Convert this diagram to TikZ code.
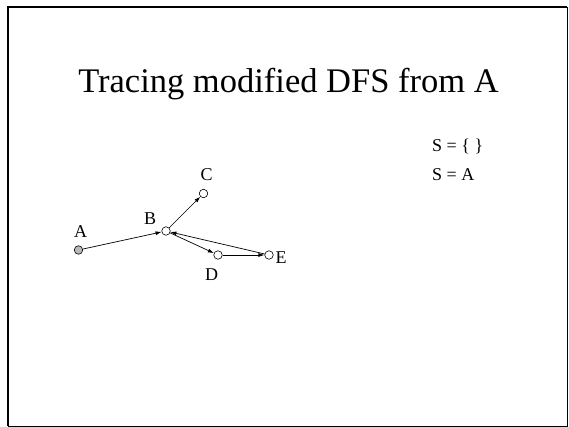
\documentclass[tikz,border=0pt]{standalone}
\usepackage{fontspec}
\setmainfont{Liberation Serif}
\usetikzlibrary{arrows.meta}
\begin{document}
\begin{tikzpicture}[x=1pt,y=-1pt,
  vert/.style={circle,draw,fill=white,inner sep=0pt,minimum size=8.5pt,line width=0.6pt},
  lbl/.style={font=\fontsize{18}{20}\selectfont,inner sep=0pt},
  edge/.style={-{Latex[length=6pt,width=4pt]},line width=0.7pt}]
\useasboundingbox (0,0) rectangle (569,427);
\draw[line width=1pt] (8.5,7.5) rectangle (567,426);
\draw[line width=1.5pt] (8,426) -- (8,7) -- (567,7);
\node[font=\fontsize{34.5}{38}\selectfont,inner sep=0pt,anchor=base] (title) at (288.5,93) {Tracing modified DFS from A};
\node[lbl,anchor=west] (s0) at (432,146) {S = \{ \}};
\node[lbl,anchor=west] (s1) at (432,175) {S = A};
% vertices
\node[vert,fill=gray!55] (a) at (78.5,250) {};
\node[vert] (b) at (166,231) {};
\node[vert] (c) at (203.5,193.5) {};
\node[vert] (d) at (218,255) {};
\node[vert] (e) at (269,255) {};
\node[lbl] (la) at (80.5,231.5) {A};
\node[lbl] (lb) at (150,219) {B};
\node[lbl] (lc) at (206.5,175) {C};
\node[lbl] (ld) at (211.5,275) {D};
\node[lbl] (le) at (281,257.5) {E};
% edges
\draw[edge] (a) -- (b);
\draw[edge] (b) -- (c);
\draw[edge] (b) -- (d);
\draw[edge] (d) -- (e);
\draw[edge] (e) -- (b);
\end{tikzpicture}
\end{document}
